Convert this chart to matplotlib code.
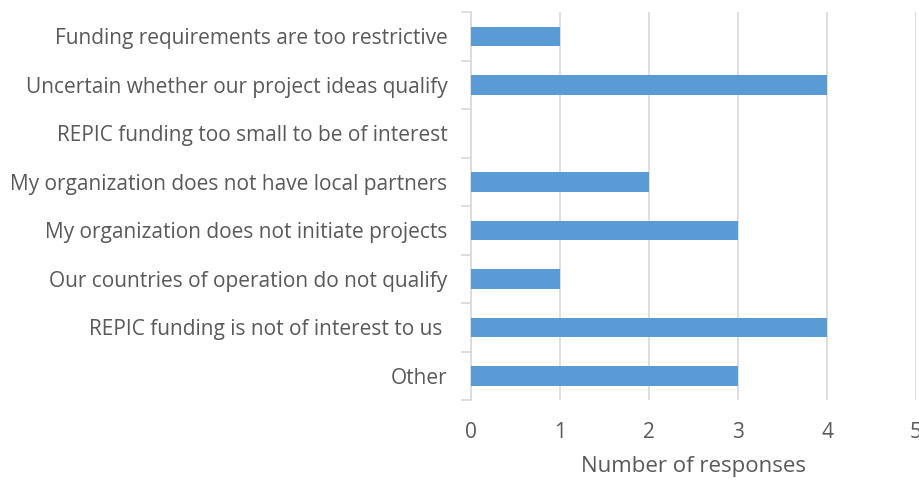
import matplotlib.pyplot as plt
import numpy as np

categories = [
    "Funding requirements are too restrictive",
    "Uncertain whether our project ideas qualify",
    "REPIC funding too small to be of interest",
    "My organization does not have local partners",
    "My organization does not initiate projects",
    "Our countries of operation do not qualify",
    "REPIC funding is not of interest to us ",
    "Other",
]
responses = [1, 4, 0, 2, 3, 1, 4, 3]
x_ticks = [0, 1, 2, 3, 4, 5]

plt.rcParams['font.family'] = ['Open Sans', 'DejaVu Sans']

fig = plt.figure(figsize=(9.2, 4.82), dpi=100)
ax = fig.add_axes([0.512, 0.170, 0.4837, 0.805])

y = np.arange(len(categories))
ax.barh(y, responses, height=0.4, color='#5B9BD5', zorder=3)

ax.set_xlim(0, 5)
ax.set_ylim(len(categories) - 0.5, -0.5)
ax.set_xticks(x_ticks)
ax.set_yticks(y)
ax.set_yticklabels(categories)
ax.set_yticks(np.arange(len(categories) + 1) - 0.5, minor=True)

ax.grid(axis='x', color='#D9D9D9', linewidth=1.2, zorder=0)
for side in ['top', 'right', 'bottom']:
    ax.spines[side].set_visible(False)
ax.spines['left'].set_color('#D9D9D9')
ax.spines['left'].set_linewidth(1.2)

ax.tick_params(axis='y', which='major', length=0, pad=17, labelsize=15, labelcolor='#595959')
ax.tick_params(axis='y', which='minor', length=7, width=1.2, color='#D9D9D9')
ax.tick_params(axis='x', length=0, pad=16, labelsize=15, labelcolor='#595959')

ax.set_xlabel('Number of responses', fontsize=16, color='#595959', labelpad=9)

fig.savefig('out.png', dpi=100)
